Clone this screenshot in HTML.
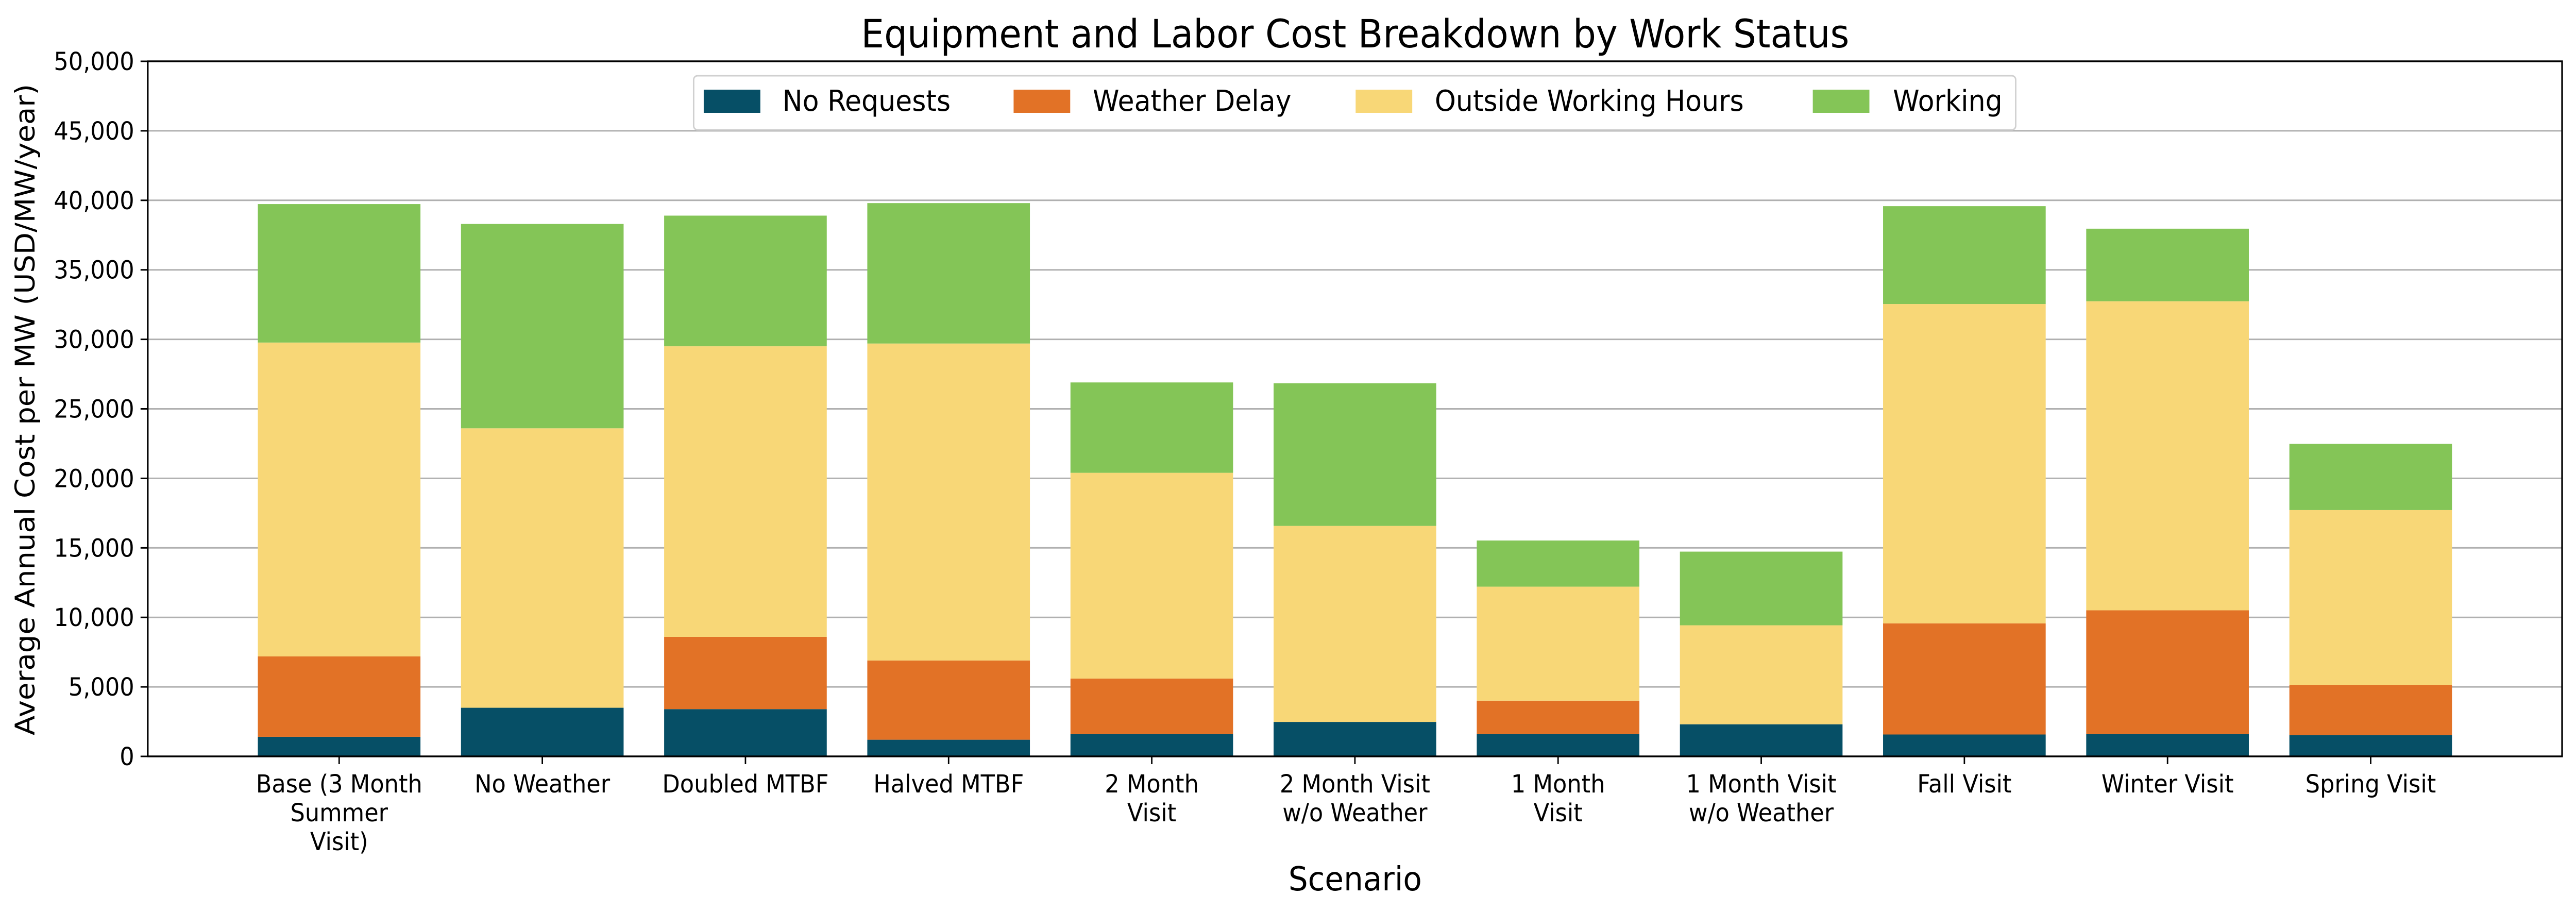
<!DOCTYPE html>
<html><head><meta charset="utf-8"><style>
html,body{margin:0;padding:0;background:#fff;overflow:hidden}
svg{display:block;position:fixed;left:0;top:0;width:100vw;height:100vh;font-family:"DejaVu Sans","Liberation Sans",sans-serif}
</style></head><body>
<svg id="chart" viewBox="0 0 5370 1770" preserveAspectRatio="none" xmlns="http://www.w3.org/2000/svg">
<rect x="0" y="0" width="5370" height="1770" fill="#fff"/>
<text x="2825" y="92" font-size="76" text-anchor="middle">Equipment and Labor Cost Breakdown by Work Status</text>
<g id="grid"></g>
<g id="bars"></g>
<g id="axes"></g>
<text transform="translate(72,795) rotate(-90)" font-size="56" text-anchor="middle">Average Annual Cost per MW (USD/MW/year)</text>
<text x="2825" y="1728" font-size="64" text-anchor="middle">Scenario</text>
<g id="legend">
<rect x="1446" y="147" width="2756" height="105" rx="8" fill="#fff" stroke="#d0d0d0" stroke-width="3"/>
</g>
</svg>
<script>
const categories = [["Base (3 Month","Summer","Visit)"],["No Weather"],["Doubled MTBF"],["Halved MTBF"],["2 Month","Visit"],["2 Month Visit","w/o Weather"],["1 Month","Visit"],["1 Month Visit","w/o Weather"],["Fall Visit"],["Winter Visit"],["Spring Visit"]];
const seriesNames = ["No Requests","Weather Delay","Outside Working Hours","Working"];
const seriesColors = ["#064f66","#e27226","#f8d777","#84c557"];
const noRequests = [1410,3500,3400,1200,1600,2480,1600,2310,1575,1600,1520];
const weatherDelay = [5780,0,5200,5700,4000,0,2410,0,7995,8910,3630];
const outsideHours = [22580,20100,20900,22800,14800,14100,8200,7120,22970,22230,12570];
const working = [9960,14700,9400,10100,6500,10260,3320,5300,7040,5220,4760];
const yTicks = [0,5000,10000,15000,20000,25000,30000,35000,40000,45000,50000];
const tickLabels = ["0","5,000","10,000","15,000","20,000","25,000","30,000","35,000","40,000","45,000","50,000"];

const NS="http://www.w3.org/2000/svg";
const X0=308,X1=5341,Y0=1468,Y1=119,YMAX=50000;
const yScale=v=>Y0-(v/YMAX)*(Y0-Y1);
const step=423.5, firstCenter=707, barW=339;
const xScale=i=>firstCenter+i*step;
function mk(tag,attrs,parent){const e=document.createElementNS(NS,tag);for(const k in attrs)e.setAttribute(k,attrs[k]);parent.appendChild(e);return e;}
const grid=document.getElementById('grid'),bars=document.getElementById('bars'),axes=document.getElementById('axes'),legend=document.getElementById('legend');
yTicks.forEach((t,i)=>{
  const y=yScale(t);
  if(t>0&&t<YMAX){const g=mk('line',{x1:X0,x2:X1,y1:y,y2:y,stroke:'#b0b0b0','stroke-width':3},grid);
  
  }
  const tk=mk('line',{x1:X0-15,x2:X0,y1:y,y2:y,stroke:'#000','stroke-width':3},axes);
  
  
  const tl=mk('text',{x:X0-28,y:y+17,'font-size':48,'text-anchor':'end'},axes);
  tl.textContent=tickLabels[i];
  
  
});
const series=[noRequests,weatherDelay,outsideHours,working];
categories.forEach((c,i)=>{
  let base=0;const cx=xScale(i);
  series.forEach((s,k)=>{
    const v=s[i];const yTop=yScale(base+v),yB=yScale(base);
    if(v>0){const r=mk('rect',{x:cx-barW/2,y:yTop,width:barW,height:yB-yTop,fill:seriesColors[k]},bars);
    
    }
    base+=v;
  });
  const tk=mk('line',{x1:cx,x2:cx,y1:Y0,y2:Y0+15,stroke:'#000','stroke-width':3},axes);
  
  
  const t=mk('text',{x:cx,y:1538,'font-size':48,'text-anchor':'middle'},axes);
  
  
  c.forEach((line,j)=>{const ts=mk('tspan',{x:cx,dy:j?56:0},t);ts.textContent=line;});
});
const frame=mk('rect',{x:X0,y:Y1,width:X1-X0,height:Y0-Y1,fill:'none',stroke:'#000','stroke-width':3.5},axes);


const patchX=[1467,2113,2826,3779],textX=[1631,2278,2991,3946];
seriesNames.forEach((n,k)=>{
  const p=mk('rect',{x:patchX[k],y:174,width:118,height:45,fill:seriesColors[k]},legend);
  
  
  const t=mk('text',{x:textX[k],y:215,'font-size':56},legend);
  t.textContent=n;
  
  
});
</script>
</body></html>
